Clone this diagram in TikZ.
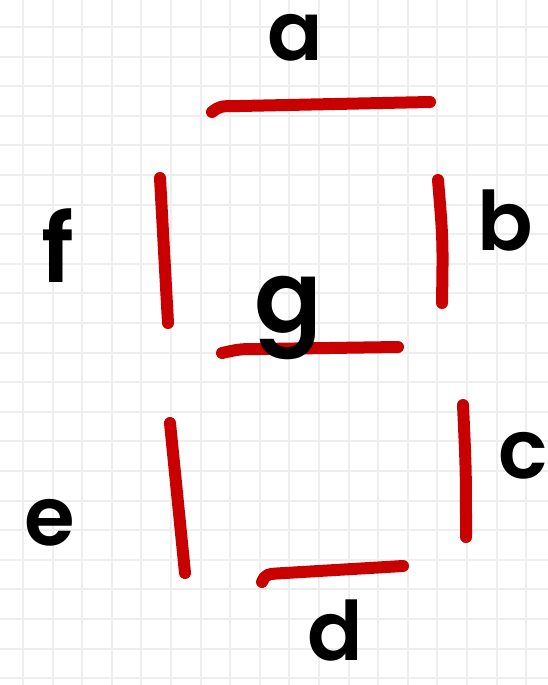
\documentclass[tikz,border=0pt]{standalone}
\usepackage{fontspec}
\setmainfont{Poppins}[BoldFont={Poppins SemiBold}]
\definecolor{segred}{RGB}{200,0,0}
\definecolor{gridgray}{RGB}{238,238,238}
\tikzset{
  seg/.style={segred, line width=12pt, line cap=round, line join=round},
  gridline/.style={gridgray, line width=2pt},
  lbl/.style={inner sep=0pt, anchor=base, font=\fontsize{82}{82}\selectfont\bfseries}
}
\begin{document}
\begin{tikzpicture}[x=1pt,y=-1pt]
			\useasboundingbox[fill=white] (0,0) rectangle (548,685);
			
			\foreach \k in {0,...,18}
				\draw[gridline] ({23+29.6*\k},0) -- ({23+29.6*\k},685);
			\foreach \k in {0,...,22}
				\draw[gridline] (0,{27+29.6*\k}) -- (548,{27+29.6*\k});
			
			\draw[seg] (212,112) .. controls (220,106) .. (240,106) -- (430,102);
			\draw[seg] (438,180) .. controls (443,240) .. (442,303);
			\draw[seg] (463,405) .. controls (466,470) .. (466,537);
			\draw[seg] (262,582) .. controls (266,574) .. (285,573) -- (403,566);
			\draw[seg] (170,423) .. controls (177,498) .. (185,573);
			\draw[seg] (160,178) .. controls (164,250) .. (168,323);
			\draw[seg] (222,353) .. controls (240,349) .. (260,349) -- (398,347);
			
			\node[lbl] (a) at (295,60) {a};
			\node[lbl] (b) at (505,250) {b};
			\node[lbl] (c) at (523,478) {c};
			\node[lbl, text depth=0pt] (d) at (335,660) {d};
			\node[lbl] (e) at (50,545) {e};
			\node[lbl, font=\fontsize{95}{95}\selectfont\bfseries] (f) at (58,282) {f};
			\node[lbl, font=\fontsize{100}{100}\selectfont\bfseries] (g) at (288,332) {g};
		\end{tikzpicture}
\end{document}
